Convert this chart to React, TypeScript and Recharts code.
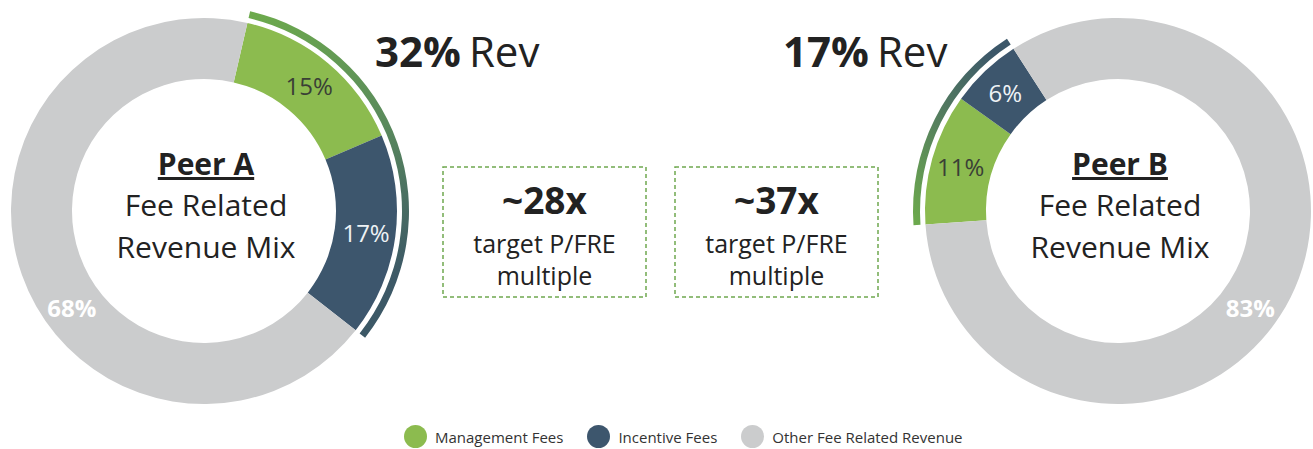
import React from "react";
import { PieChart, Pie, Cell } from "recharts";

// chart data
const categories = ["Management Fees", "Incentive Fees", "Other Fee Related Revenue"];
const peerNames = ["Peer A", "Peer B"];
const peerAValues = [15, 17, 68];
const peerBValues = [11, 6, 83];
const multiples = ["~28x", "~37x"];
const multipleCaption = ["target P/FRE", "multiple"];
const centerCaption = ["Fee Related", "Revenue Mix"];

const COLORS = ["#8cbb4f", "#3d566d", "#cbcccd"];
const LABEL_COLORS = ["#3a3f36", "#eef2f5", "#ffffff"];
const FONT = "'Open Sans', 'Noto Sans', sans-serif";

const W = 1313;
const H = 449;
const CY = 211;
const INNER = 132;
const OUTER = 193;
const RAD = Math.PI / 180;

const donuts = [
  { name: peerNames[0], values: peerAValues, cx: 204, startAngle: 77, otherAngle: -144, grad: "revGradA" },
  { name: peerNames[1], values: peerBValues, cx: 1118, startAngle: 184, otherAngle: -36, grad: "revGradB" },
];

function toRows(values: number[]) {
  return categories.map((c, i) => ({ name: c, value: values[i] }));
}

function feeShare(values: number[]) {
  return values[0] + values[1];
}

function makeLabel(otherAngle: number) {
  return (p: any) => {
    const { cx, cy, midAngle, innerRadius, outerRadius, value, index } = p;
    const ang = index === 2 ? otherAngle : midAngle;
    const r = (innerRadius + outerRadius) / 2 + 1;
    const x = cx + r * Math.cos(-ang * RAD);
    const y = cy + r * Math.sin(-ang * RAD);
    return (
      <text
        x={x}
        y={y}
        textAnchor="middle"
        dominantBaseline="central"
        fill={LABEL_COLORS[index]}
        fontSize={24}
        fontWeight={index === 2 ? 700 : 400}
        fontFamily={FONT}
      >
        {value}%
      </text>
    );
  };
}

export default function App() {
  return (
    <div style={{ position: "absolute", left: 0, top: 0, width: W, height: H, background: "#fff", fontFamily: FONT }}>
      <PieChart width={W} height={H} margin={{ top: 0, right: 0, bottom: 0, left: 0 }}>
        <defs>
          <linearGradient id="revGradA" x1="0" y1="0" x2="0.3" y2="1">
            <stop offset="0%" stopColor="#6dab4c" />
            <stop offset="55%" stopColor="#5a8a5c" />
            <stop offset="100%" stopColor="#3c5866" />
          </linearGradient>
          <linearGradient id="revGradB" x1="0" y1="1" x2="0.7" y2="0">
            <stop offset="0%" stopColor="#6dab4c" />
            <stop offset="50%" stopColor="#557f5e" />
            <stop offset="100%" stopColor="#3c5769" />
          </linearGradient>
        </defs>
        {donuts.map((d) => (
          <Pie
            key={d.name}
            data={toRows(d.values)}
            dataKey="value"
            cx={d.cx}
            cy={CY}
            innerRadius={INNER}
            outerRadius={OUTER}
            startAngle={d.startAngle}
            endAngle={d.startAngle - 360}
            stroke="none"
            label={makeLabel(d.otherAngle)}
            labelLine={false}
            isAnimationActive={false}
          >
            {categories.map((c, i) => (
              <Cell key={c} fill={COLORS[i]} />
            ))}
          </Pie>
        ))}
        {donuts.map((d) => (
          <Pie
            key={d.name + "-rev"}
            data={[
              { name: "fees", value: feeShare(d.values) },
              { name: "rest", value: 100 - feeShare(d.values) },
            ]}
            dataKey="value"
            cx={d.cx}
            cy={CY}
            innerRadius={198}
            outerRadius={205}
            startAngle={d.startAngle}
            endAngle={d.startAngle - 360}
            stroke="none"
            isAnimationActive={false}
          >
            <Cell fill={`url(#${d.grad})`} />
            <Cell fill="transparent" />
          </Pie>
        ))}
      </PieChart>

      <svg width={W} height={H} style={{ position: "absolute", left: 0, top: 0, pointerEvents: "none" }}>
        {donuts.map((d) => (
          <g key={d.name} fontFamily={FONT} fill="#222" textAnchor="middle">
            <text x={d.cx + 2} y={175} fontSize={30} fontWeight={700} textDecoration="underline">
              {d.name}
            </text>
            <text x={d.cx + 2} y={216} fontSize={30}>
              {centerCaption[0]}
            </text>
            <text x={d.cx + 2} y={258} fontSize={30}>
              {centerCaption[1]}
            </text>
          </g>
        ))}

        <text x={375} y={67} fontFamily={FONT} fontSize={42} fill="#222">
          <tspan fontWeight={700}>{feeShare(peerAValues)}%</tspan>
          <tspan dx={8}>Rev</tspan>
        </text>
        <text x={783} y={67} fontFamily={FONT} fontSize={42} fill="#222">
          <tspan fontWeight={700}>{feeShare(peerBValues)}%</tspan>
          <tspan dx={8}>Rev</tspan>
        </text>

        {multiples.map((m, i) => {
          const x = i === 0 ? 443 : 675;
          const w = 203;
          return (
            <g key={m} fontFamily={FONT} fill="#222" textAnchor="middle">
              <rect
                x={x}
                y={167}
                width={w}
                height={130}
                fill="none"
                stroke="#6fa84f"
                strokeWidth={1.5}
                strokeDasharray="4 3"
              />
              <text x={x + w / 2} y={214} fontSize={37} fontWeight={700}>
                {m}
              </text>
              <text x={x + w / 2} y={253} fontSize={25}>
                {multipleCaption[0]}
              </text>
              <text x={x + w / 2} y={285} fontSize={25}>
                {multipleCaption[1]}
              </text>
            </g>
          );
        })}
      </svg>

      <div
        style={{
          position: "absolute",
          left: 404,
          top: 425,
          display: "flex",
          alignItems: "center",
          fontSize: 15,
          color: "#333",
        }}
      >
        {categories.map((c, i) => (
          <div key={c} style={{ display: "flex", alignItems: "center", marginRight: 24 }}>
            <span
              style={{
                width: 23,
                height: 23,
                borderRadius: "50%",
                background: COLORS[i],
                display: "inline-block",
                marginRight: 8,
              }}
            />
            <span>{c}</span>
          </div>
        ))}
      </div>
    </div>
  );
}
